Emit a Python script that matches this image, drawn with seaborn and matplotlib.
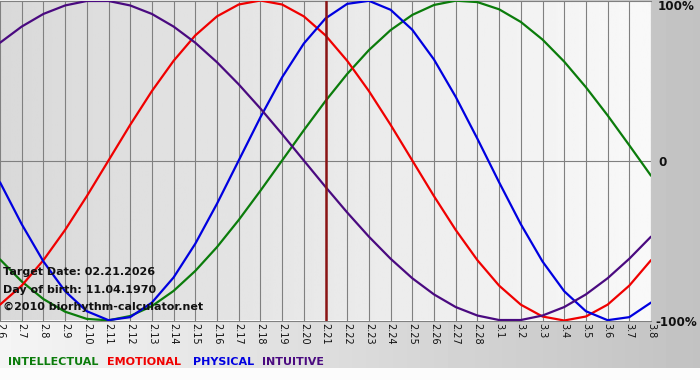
"""
Biorhythm chart around 02.21.2026 (birth 11.04.1970)
"""

import numpy as np
import pandas as pd
import matplotlib.pyplot as plt
import seaborn as sns

sns.set_style("white")
plt.rcParams["font.family"] = ["DejaVu Sans"]

# ---------------------------------------------------------------------------
# Data (one value per day, -1 .. 1)
# ---------------------------------------------------------------------------
days = ["2.6", "2.7", "2.8", "2.9", "2.10", "2.11", "2.12", "2.13", "2.14",
        "2.15", "2.16", "2.17", "2.18", "2.19", "2.20", "2.21", "2.22", "2.23",
        "2.24", "2.25", "2.26", "2.27", "2.28", "3.1", "3.2", "3.3", "3.4",
        "3.5", "3.6", "3.7", "3.8"]

intellectual = [-0.618, -0.756, -0.866, -0.945, -0.990, -0.999, -0.972, -0.910,
                -0.815, -0.690, -0.541, -0.372, -0.189, 0.0, 0.189, 0.372,
                0.541, 0.690, 0.815, 0.910, 0.972, 0.999, 0.990, 0.945,
                0.866, 0.756, 0.618, 0.458, 0.282, 0.095, -0.095]

emotional = [-0.901, -0.782, -0.623, -0.434, -0.223, 0.0, 0.223, 0.434,
             0.623, 0.782, 0.901, 0.975, 1.0, 0.975, 0.901, 0.782,
             0.623, 0.434, 0.223, 0.0, -0.223, -0.434, -0.623, -0.782,
             -0.901, -0.975, -1.0, -0.975, -0.901, -0.782, -0.623]

physical = [-0.136, -0.398, -0.631, -0.817, -0.942, -0.998, -0.979, -0.888,
            -0.731, -0.520, -0.270, 0.0, 0.270, 0.520, 0.731, 0.888,
            0.979, 0.998, 0.942, 0.817, 0.631, 0.398, 0.136, -0.136,
            -0.398, -0.631, -0.817, -0.942, -0.998, -0.979, -0.888]

intuitive = [0.736, 0.837, 0.916, 0.969, 0.997, 0.997, 0.969, 0.916,
             0.837, 0.736, 0.614, 0.476, 0.325, 0.165, 0.0, -0.165,
             -0.325, -0.476, -0.614, -0.736, -0.837, -0.916, -0.969, -0.997,
             -0.997, -0.969, -0.916, -0.837, -0.736, -0.614, -0.476]

series_names = ["INTELLECTUAL", "EMOTIONAL", "PHYSICAL", "INTUITIVE"]
series_colors = ["#0b7c0b", "#f00000", "#0000e0", "#4a0a80"]
target_day = "2.21"
info_lines = ["Target Date: 02.21.2026",
              "Day of birth: 11.04.1970",
              "\u00a92010 biorhythm-calculator.net"]
level_labels = ["100%", "0", "-100%"]
level_values = [1, 0, -1]

# long table for seaborn
df = pd.DataFrame({
    "pos": list(range(len(days))) * 4,
    "value": intellectual + emotional + physical + intuitive,
    "series": sum([[s] * len(days) for s in series_names], []),
})

W, H = 700, 380
fig = plt.figure(figsize=(7, 3.8), dpi=100)

# page background: light on the left, grey on the right, white strip below
bg = fig.add_axes([0, 0, 1, 1])
grad = np.tile(np.linspace(0.96, 0.76, W), (H, 1))
grad[368:, :] = 0.985
bg.imshow(grad, cmap="gray", vmin=0, vmax=1, aspect="auto",
          extent=[0, W, H, 0], interpolation="bilinear")
bg.axis("off")


def fx(px):
    return px / W


def fy(py):
    return 1 - py / H


# plot area
ax = fig.add_axes([0, fy(320.5), fx(651), 320 / H])
ax.imshow(np.linspace(0.85, 0.975, 256).reshape(1, -1), cmap="gray",
          vmin=0, vmax=1, aspect="auto", extent=[0, 30, -1, 1], zorder=0)

sns.lineplot(data=df, x="pos", y="value", hue="series",
             hue_order=series_names, palette=series_colors,
             legend=False, linewidth=1.6, ax=ax, zorder=3)

ax.set_xlim(0, len(days) - 1)
ax.set_ylim(-1, 1)
ax.set_xticks(range(len(days)))
ax.set_xticklabels(days, rotation=270, fontsize=7, color="#111111")
ax.set_yticks([])
ax.tick_params(axis="x", length=0, pad=2)
ax.set_xlabel("")
ax.set_ylabel("")
ax.grid(axis="x", color="#808080", linewidth=0.8, zorder=1)
ax.axhline(0, color="#808080", linewidth=0.8, zorder=1)
ax.axvline(days.index(target_day), color="#8a1414", linewidth=1.8, zorder=4)
for side in ["left", "right"]:
    ax.spines[side].set_visible(False)
for side in ["top", "bottom"]:
    ax.spines[side].set_color("#808080")
    ax.spines[side].set_linewidth(0.8)

# info text in the lower left corner
for text, y in zip(info_lines, [272, 290, 307]):
    fig.text(fx(3), fy(y), text, fontsize=8, fontweight="bold",
             va="center", ha="left", color="#111111", zorder=5)

# level labels on the right
for text, v in zip(level_labels, level_values):
    y = {1: 7, 0: 162, -1: 322}[v]
    x = 655 if v == -1 else 658
    fig.text(fx(x), fy(y), text, fontsize=8.6, fontweight="bold",
             va="center", ha="left", color="#111111")

# legend words along the bottom
for name, color, x in zip(series_names, series_colors, [8, 107, 193, 262]):
    fig.text(fx(x), fy(362), name, fontsize=8, fontweight="bold",
             color=color, va="center", ha="left")

plt.savefig("out.png", dpi=100)
